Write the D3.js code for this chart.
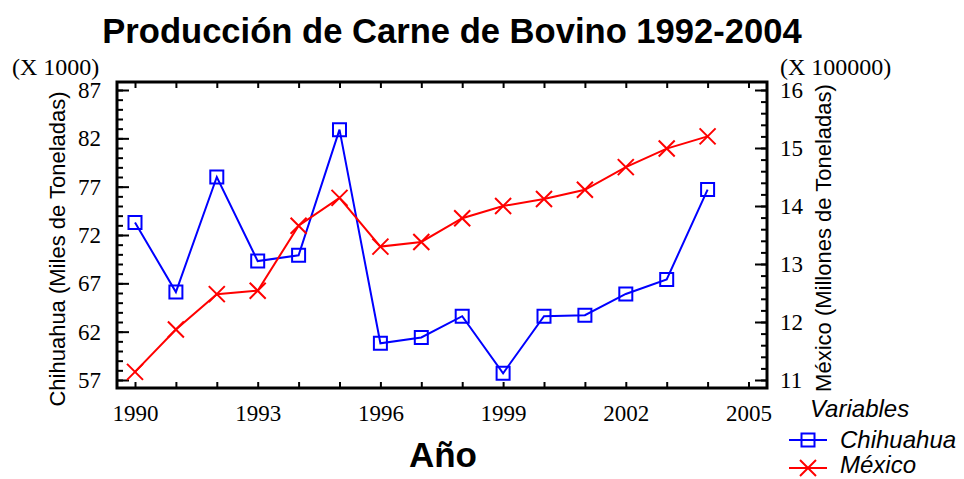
<!DOCTYPE html>
<html>
<head>
<meta charset="utf-8">
<script src="https://cdn.jsdelivr.net/npm/d3@7"></script>
<style>
body { margin: 0; background: #fff; }
</style>
</head>
<body>
<div id="chart"></div>
<script>
// data
var years = [1990, 1991, 1992, 1993, 1994, 1995, 1996, 1997, 1998, 1999, 2000, 2001, 2002, 2003, 2004];
var chihuahua = [73.3, 66.1, 78.0, 69.3, 69.9, 82.9, 60.8, 61.4, 63.6, 57.7, 63.6, 63.7, 65.9, 67.4, 76.7]; // x 1000
var mexico = [11.14, 11.87, 12.48, 12.54, 13.66, 14.14, 13.30, 13.38, 13.79, 14.00, 14.12, 14.28, 14.67, 14.99, 15.20]; // x 100000
var xTickLabels = [1990, 1993, 1996, 1999, 2002, 2005];
var leftTickLabels = [57, 62, 67, 72, 77, 82, 87];
var rightTickLabels = [11, 12, 13, 14, 15, 16];

var width = 964, height = 479;
// plot frame
var frame = { left: 117, right: 767, top: 82, bottom: 388 };

var serif = "'Liberation Serif', 'Times New Roman', serif",
    sans = "'Liberation Sans', Arial, sans-serif";

var svg = d3.select("#chart").append("svg")
    .attr("width", width)
    .attr("height", height);

var x = d3.scaleLinear().domain([1990, 2005]).range([135, 748.5]);
var yL = d3.scaleLinear().domain([57, 87]).range([380, 90]);
var yR = d3.scaleLinear().domain([11, 16]).range([380, 90]);

// title
svg.append("text")
    .attr("x", 452).attr("y", 43)
    .attr("text-anchor", "middle")
    .style("font-family", sans).style("font-weight", "bold").style("font-size", "34.6px")
    .text("Producción de Carne de Bovino 1992-2004");

function styleAxis(g, fontSize) {
    g.select(".domain").remove();
    g.selectAll(".tick line").attr("stroke", "#000").attr("stroke-width", 2);
    g.selectAll("text").style("font-family", serif).style("font-size", fontSize).attr("fill", "#000");
}

// bottom / top ticks, every year, pointing inward
svg.append("g").attr("transform", "translate(0," + frame.bottom + ")")
    .call(d3.axisBottom(x).tickValues(d3.range(1990, 2006)).tickSize(-6).tickFormat(""))
    .call(styleAxis);
svg.append("g").attr("transform", "translate(0," + frame.top + ")")
    .call(d3.axisTop(x).tickValues(d3.range(1990, 2006)).tickSize(-6).tickFormat(""))
    .call(styleAxis);
svg.append("g").attr("transform", "translate(0," + frame.bottom + ")")
    .call(d3.axisBottom(x).tickValues(xTickLabels).tickSize(0).tickPadding(17).tickFormat(d3.format("d")))
    .call(styleAxis, "23px");

// left axis
svg.append("g").attr("transform", "translate(" + frame.left + ",0)")
    .call(d3.axisLeft(yL).tickValues(d3.range(57, 88)).tickSize(-6).tickFormat(""))
    .call(styleAxis);
svg.append("g").attr("transform", "translate(" + frame.left + ",0)")
    .call(d3.axisLeft(yL).tickValues(leftTickLabels).tickSize(-12).tickPadding(16).tickFormat(d3.format("d")))
    .call(styleAxis, "23px");

// right axis
svg.append("g").attr("transform", "translate(" + frame.right + ",0)")
    .call(d3.axisRight(yR).tickValues(d3.range(11, 16.01, 0.2)).tickSize(-6).tickFormat(""))
    .call(styleAxis);
svg.append("g").attr("transform", "translate(" + frame.right + ",0)")
    .call(d3.axisRight(yR).tickValues(rightTickLabels).tickSize(-12).tickPadding(13).tickFormat(d3.format("d")))
    .call(styleAxis, "23px");

// frame
svg.append("rect")
    .attr("x", frame.left).attr("y", frame.top)
    .attr("width", frame.right - frame.left).attr("height", frame.bottom - frame.top)
    .attr("fill", "none").attr("stroke", "#000").attr("stroke-width", 3);

// multipliers
svg.append("text").attr("x", 12).attr("y", 75)
    .style("font-family", serif).style("font-size", "24px")
    .text("(X 1000)");
svg.append("text").attr("x", 780).attr("y", 75)
    .style("font-family", serif).style("font-size", "24px")
    .text("(X 100000)");

// axis titles
svg.append("text")
    .attr("transform", "translate(65,249) rotate(-90)")
    .attr("text-anchor", "middle")
    .style("font-family", sans).style("font-size", "22px")
    .text("Chihuahua (Miles de Toneladas)");
svg.append("text")
    .attr("transform", "translate(831,238) rotate(-90)")
    .attr("text-anchor", "middle")
    .style("font-family", sans).style("font-size", "22px")
    .text("México (Millones de Toneladas)");
svg.append("text")
    .attr("x", 443).attr("y", 467)
    .attr("text-anchor", "middle")
    .style("font-family", sans).style("font-weight", "bold").style("font-size", "35px")
    .text("Año");

// series
var chiData = years.map(function (d, i) { return { year: d, v: chihuahua[i] }; });
var mexData = years.map(function (d, i) { return { year: d, v: mexico[i] }; });

var blue = "#0000ff", red = "#ff0000";
var squarePath = "M-6.5,-6.5H6.5V6.5H-6.5Z";
var crossPath = "M-8,-8L8,8M-8,8L8,-8";

svg.append("path")
    .datum(chiData)
    .attr("fill", "none").attr("stroke", blue).attr("stroke-width", 2)
    .attr("d", d3.line().x(function (d) { return x(d.year); }).y(function (d) { return yL(d.v); }));
svg.append("g").selectAll("path")
    .data(chiData)
    .enter().append("path")
    .attr("transform", function (d) { return "translate(" + x(d.year) + "," + yL(d.v) + ")"; })
    .attr("d", squarePath)
    .attr("fill", "none").attr("stroke", blue).attr("stroke-width", 2);

svg.append("path")
    .datum(mexData)
    .attr("fill", "none").attr("stroke", red).attr("stroke-width", 2)
    .attr("d", d3.line().x(function (d) { return x(d.year); }).y(function (d) { return yR(d.v); }));
svg.append("g").selectAll("path")
    .data(mexData)
    .enter().append("path")
    .attr("transform", function (d) { return "translate(" + x(d.year) + "," + yR(d.v) + ")"; })
    .attr("d", crossPath)
    .attr("fill", "none").attr("stroke", red).attr("stroke-width", 2);

// legend
var legend = svg.append("g").style("font-family", sans).style("font-style", "italic").style("font-size", "24px");
legend.append("text").attr("x", 810).attr("y", 417).text("Variables");
var items = [
    { name: "Chihuahua", color: blue, marker: squarePath, y: 440, ty: 448 },
    { name: "México", color: red, marker: crossPath, y: 468, ty: 473 }
];
items.forEach(function (it) {
    legend.append("line")
        .attr("x1", 789).attr("x2", 827).attr("y1", it.y).attr("y2", it.y)
        .attr("stroke", it.color).attr("stroke-width", 2);
    legend.append("path")
        .attr("transform", "translate(808," + it.y + ")")
        .attr("d", it.marker)
        .attr("fill", "none").attr("stroke", it.color).attr("stroke-width", 2);
    legend.append("text").attr("x", 840).attr("y", it.ty).text(it.name);
});
</script>
</body>
</html>
